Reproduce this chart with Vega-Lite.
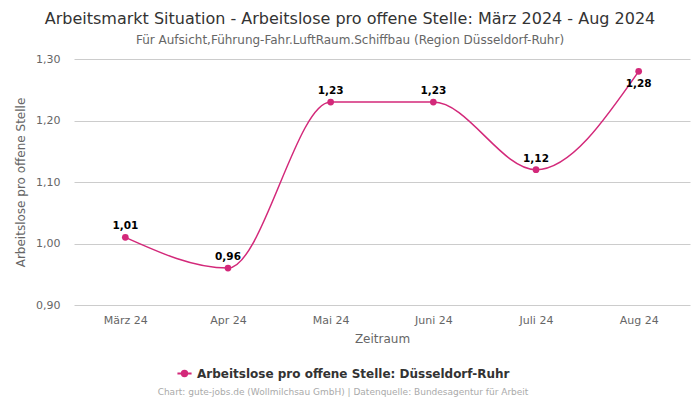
{
  "$schema": "https://vega.github.io/schema/vega-lite/v6.json",
  "width": 616,
  "height": 246,
  "autosize": {"type": "none"},
  "padding": {"left": 74, "top": 59, "right": 10, "bottom": 95},
  "config": {
    "font": "DejaVu Sans",
    "view": {"stroke": null},
    "locale": {"number": {"decimal": ",", "thousands": ".", "grouping": [3], "currency": ["", " €"]}}
  },
  "title": {
    "text": "Arbeitsmarkt Situation - Arbeitslose pro offene Stelle: März 2024 - Aug 2024",
    "subtitle": "Für Aufsicht,Führung-Fahr.LuftRaum.Schiffbau (Region Düsseldorf-Ruhr)",
    "anchor": "middle",
    "frame": "group",
    "dx": -32,
    "offset": 7,
    "fontSize": 16,
    "fontWeight": "normal",
    "color": "#333333",
    "subtitleFontSize": 12,
    "subtitleColor": "#666666",
    "subtitlePadding": 8
  },
  "data": {
    "values": [
      {"monat": "März 24", "wert": 1.01, "serie": "Arbeitslose pro offene Stelle: Düsseldorf-Ruhr"},
      {"monat": "Apr 24", "wert": 0.96, "serie": "Arbeitslose pro offene Stelle: Düsseldorf-Ruhr"},
      {"monat": "Mai 24", "wert": 1.23, "serie": "Arbeitslose pro offene Stelle: Düsseldorf-Ruhr"},
      {"monat": "Juni 24", "wert": 1.23, "serie": "Arbeitslose pro offene Stelle: Düsseldorf-Ruhr"},
      {"monat": "Juli 24", "wert": 1.12, "serie": "Arbeitslose pro offene Stelle: Düsseldorf-Ruhr"},
      {"monat": "Aug 24", "wert": 1.28, "serie": "Arbeitslose pro offene Stelle: Düsseldorf-Ruhr"}
    ]
  },
  "encoding": {
    "x": {
      "field": "monat",
      "type": "ordinal",
      "sort": null,
      "scale": {"type": "point", "padding": 0.5},
      "axis": {
        "title": "Zeitraum",
        "labelAngle": 0,
        "labelColor": "#666666",
        "labelFontSize": 11,
        "titleColor": "#666666",
        "titleFontSize": 12,
        "titleFontWeight": "normal",
        "domain": false,
        "ticks": false,
        "labelPadding": 9,
        "titlePadding": 8
      }
    },
    "y": {
      "field": "wert",
      "type": "quantitative",
      "scale": {"domain": [0.9, 1.3], "nice": false, "zero": false},
      "axis": {
        "title": "Arbeitslose pro offene Stelle",
        "values": [0.9, 1.0, 1.1, 1.2, 1.3],
        "format": ".2f",
        "labelColor": "#666666",
        "labelFontSize": 11,
        "titleColor": "#666666",
        "titleFontSize": 12,
        "titleFontWeight": "normal",
        "domain": false,
        "ticks": false,
        "labelPadding": 14,
        "titlePadding": 8,
        "gridColor": "#cccccc"
      }
    }
  },
  "layer": [
    {
      "mark": {"type": "line", "interpolate": "monotone", "strokeWidth": 1.5},
      "encoding": {
        "color": {
          "field": "serie",
          "type": "nominal",
          "scale": {"range": ["#d3297a"]},
          "legend": {
            "orient": "none",
            "legendX": 84,
            "legendY": 306,
            "title": "Chart: gute-jobs.de (Wollmilchsau GmbH) | Datenquelle: Bundesagentur für Arbeit",
            "titleOrient": "bottom",
            "titleAnchor": "middle",
            "titleFontSize": 9,
            "titleFontWeight": "normal",
            "titleColor": "#aaaaaa",
            "titlePadding": 8,
            "titleLimit": 0,
            "labelLimit": 0,
            "labelFontSize": 12,
            "labelFontWeight": "bold",
            "labelColor": "#333333",
            "symbolType": "M-1,0L1,0M-0.38,0A0.38,0.38 0 1,1 0.38,0A0.38,0.38 0 1,1 -0.38,0Z",
            "symbolFillColor": "#d3297a",
            "symbolStrokeWidth": 2,
            "symbolSize": 200
          }
        }
      }
    },
    {
      "mark": {"type": "point", "filled": true, "size": 45, "opacity": 1},
      "encoding": {"color": {"field": "serie", "type": "nominal"}}
    },
    {
      "transform": [{"filter": "datum.monat !== 'Aug 24'"}],
      "mark": {"type": "text", "dy": -11, "fontSize": 10.5, "fontWeight": "bold", "color": "#000000"},
      "encoding": {"text": {"field": "wert", "type": "quantitative", "format": ".2f"}}
    },
    {
      "transform": [{"filter": "datum.monat === 'Aug 24'"}],
      "mark": {"type": "text", "dy": 13, "fontSize": 10.5, "fontWeight": "bold", "color": "#000000"},
      "encoding": {"text": {"field": "wert", "type": "quantitative", "format": ".2f"}}
    }
  ]
}
